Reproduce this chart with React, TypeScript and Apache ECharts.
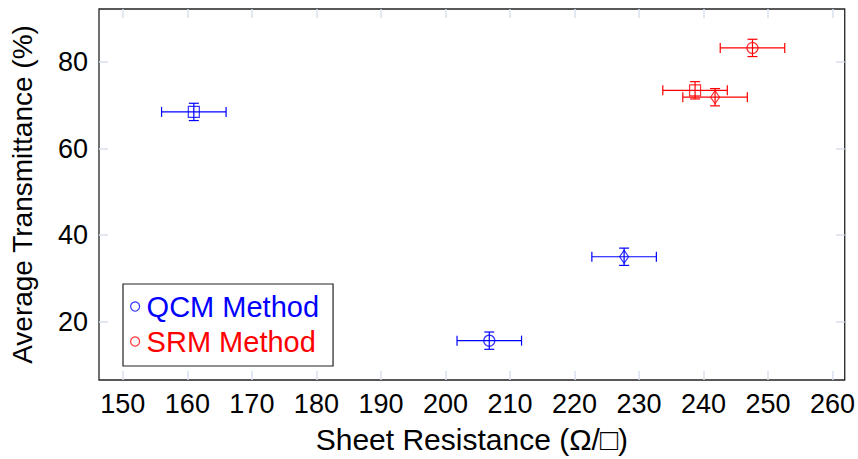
import React, { useEffect, useRef } from "react";
import * as echarts from "echarts";

// Tick labels
const xTicks = [150, 160, 170, 180, 190, 200, 210, 220, 230, 240, 250, 260];
const yTicks = [20, 40, 60, 80];

// QCM Method points (x, y, x-error, y-error, marker)
const qcmX = [161, 206.8, 227.7];
const qcmY = [68.5, 15.6, 35.0];
const qcmXErr = [5, 5, 5];
const qcmYErr = [2, 2, 2];
const qcmMarks = ["rect", "circle", "diamond"];

// SRM Method points
const srmX = [238.7, 247.6, 241.8];
const srmY = [73.5, 83.3, 71.9];
const srmXErr = [5, 5, 5];
const srmYErr = [2, 2, 2];
const srmMarks = ["rect", "circle", "diamond"];

const BLUE = "#0000ff";
const RED = "#ff0000";
const FONT = "'Liberation Sans', Arial, Helvetica, sans-serif";

const markSize: Record<string, number[]> = {
  rect: [11, 11],
  circle: [11, 11],
  diamond: [9, 13],
};

function errorSeries(xs: number[], ys: number[], xe: number[], ye: number[], color: string) {
  return {
    type: "custom",
    xAxisIndex: 0,
    yAxisIndex: 0,
    silent: true,
    z: 2,
    data: xs.map((x, i) => [x, ys[i], xe[i], ye[i]]),
    renderItem: (params: any, api: any) => {
      const x = api.value(0);
      const y = api.value(1);
      const dx = api.value(2);
      const dy = api.value(3);
      const c = api.coord([x, y]);
      const l = api.coord([x - dx, y]);
      const r = api.coord([x + dx, y]);
      const t = api.coord([x, y + dy]);
      const b = api.coord([x, y - dy]);
      const cap = 5;
      const style = { stroke: color, lineWidth: 1.2 };
      const line = (x1: number, y1: number, x2: number, y2: number) => ({
        type: "line",
        shape: { x1, y1, x2, y2 },
        style,
      });
      return {
        type: "group",
        children: [
          line(l[0], c[1], r[0], c[1]),
          line(l[0], c[1] - cap, l[0], c[1] + cap),
          line(r[0], c[1] - cap, r[0], c[1] + cap),
          line(c[0], t[1], c[0], b[1]),
          line(c[0] - cap, t[1], c[0] + cap, t[1]),
          line(c[0] - cap, b[1], c[0] + cap, b[1]),
        ],
      };
    },
  };
}

function markerSeries(name: string, xs: number[], ys: number[], marks: string[], color: string) {
  return {
    type: "scatter",
    name,
    z: 3,
    itemStyle: { color: "rgba(0,0,0,0)", borderColor: color, borderWidth: 1.2 },
    data: xs.map((x, i) => ({
      value: [x, ys[i]],
      symbol: marks[i],
      symbolSize: markSize[marks[i]],
    })),
  };
}

export default function App() {
  const ref = useRef<HTMLDivElement>(null);

  useEffect(() => {
    if (!ref.current) return;
    const chart = echarts.init(ref.current, undefined, { renderer: "svg" });
    const tickStyle = { color: "#d9e1ec", width: 1.5 };
    const option: any = {
      animation: false,
      backgroundColor: "#ffffff",
      textStyle: { fontFamily: FONT },
      grid: {
        left: 99,
        right: 8,
        top: 9,
        bottom: 78,
        show: true,
        borderColor: "#222222",
        borderWidth: 1.3,
        backgroundColor: "transparent",
      },
      legend: {
        orient: "vertical",
        left: 123,
        top: 284,
        padding: [8, 14, 10, 7],
        itemGap: 6,
        itemWidth: 9,
        itemHeight: 9,
        backgroundColor: "#ffffff",
        borderColor: "#222222",
        borderWidth: 1.2,
        borderRadius: 0,
        textStyle: { fontSize: 29, fontFamily: FONT, padding: [0, 0, 0, 2] },
        data: [
          {
            name: "QCM Method",
            icon: "circle",
            itemStyle: { color: "#fff", borderColor: BLUE, borderWidth: 1.2 },
            textStyle: { color: BLUE },
          },
          {
            name: "SRM Method",
            icon: "circle",
            itemStyle: { color: "#fff", borderColor: RED, borderWidth: 1.2 },
            textStyle: { color: RED },
          },
        ],
      },
      xAxis: [
        {
          type: "value",
          min: 146.3,
          max: 261.9,
          position: "bottom",
          name: "Sheet Resistance (Ω/□)",
          nameLocation: "middle",
          nameGap: 44,
          nameTextStyle: { fontSize: 30, color: "#000", fontFamily: FONT },
          axisLine: { show: false },
          splitLine: { show: false },
          axisTick: { show: true, inside: true, length: 9, customValues: xTicks, lineStyle: tickStyle },
          axisLabel: { show: true, customValues: xTicks, fontSize: 27, color: "#000", margin: 10, fontFamily: FONT },
        },
        {
          type: "value",
          min: 146.3,
          max: 261.9,
          position: "top",
          axisLine: { show: false },
          splitLine: { show: false },
          axisTick: { show: true, inside: true, length: 9, customValues: xTicks, lineStyle: tickStyle },
          axisLabel: { show: false },
        },
      ],
      yAxis: [
        {
          type: "value",
          min: 6.5,
          max: 92.3,
          position: "left",
          name: "Average Transmittance (%)",
          nameLocation: "middle",
          nameGap: 63,
          nameTextStyle: { fontSize: 28, color: "#000", fontFamily: FONT },
          axisLine: { show: false },
          splitLine: { show: false },
          axisTick: { show: true, inside: true, length: 9, customValues: yTicks, lineStyle: tickStyle },
          axisLabel: { show: true, customValues: yTicks, fontSize: 27, color: "#000", margin: 11, fontFamily: FONT },
        },
        {
          type: "value",
          min: 6.5,
          max: 92.3,
          position: "right",
          axisLine: { show: false },
          splitLine: { show: false },
          axisTick: { show: true, inside: true, length: 9, customValues: yTicks, lineStyle: tickStyle },
          axisLabel: { show: false },
        },
      ],
      series: [
        errorSeries(qcmX, qcmY, qcmXErr, qcmYErr, BLUE),
        errorSeries(srmX, srmY, srmXErr, srmYErr, RED),
        markerSeries("QCM Method", qcmX, qcmY, qcmMarks, BLUE),
        markerSeries("SRM Method", srmX, srmY, srmMarks, RED),
      ],
    };
    chart.setOption(option);
    return () => chart.dispose();
  }, []);

  return (
    <div
      ref={ref}
      style={{ position: "fixed", left: 0, top: 0, width: 858, height: 459 }}
    />
  );
}
